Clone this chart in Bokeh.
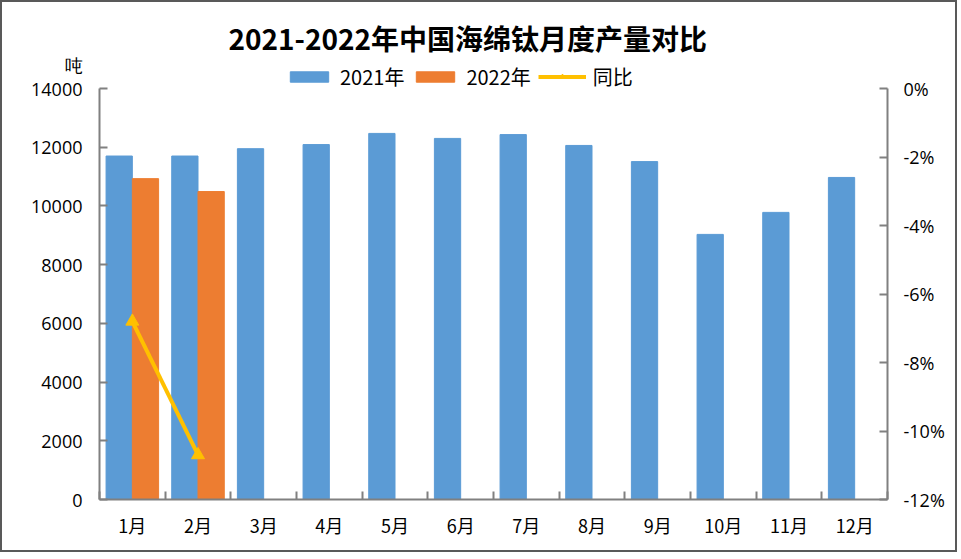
from bokeh.plotting import figure
from bokeh.models import (Range1d, LinearAxis, FixedTicker, PrintfTickFormatter,
                          Legend, LegendItem, ColumnDataSource)
from bokeh.embed import file_html
from bokeh.resources import INLINE

months = ["1月", "2月", "3月", "4月", "5月", "6月", "7月", "8月", "9月", "10月", "11月", "12月"]
prod_2021 = [11700, 11700, 11950, 12090, 12470, 12300, 12430, 12060, 11510, 9030, 9780, 10970]
prod_2022 = [10930, 10490]
yoy_pct = [-6.8, -10.7]
left_ticks = [0, 2000, 4000, 6000, 8000, 10000, 12000, 14000]
right_ticks = [-12, -10, -8, -6, -4, -2, 0]
unit_label = "吨"

FONT = "Open Sans"
CJK = "Noto Sans CJK SC"
BLUE = "#5B9BD5"
ORANGE = "#ED7D31"
YELLOW = "#FFC000"
AXIS = "#808080"
TEXT = "#000000"

# frame extends a little above the top tick so the legend fits inside it
AXIS_PX = 411.0
EXTRA_PX = 28.0
y_top = left_ticks[-1] + EXTRA_PX * (left_ticks[-1] - left_ticks[0]) / AXIS_PX
r_top = right_ticks[-1] + EXTRA_PX * (right_ticks[-1] - right_ticks[0]) / AXIS_PX

xs = list(range(1, len(months) + 1))
src21 = ColumnDataSource(dict(x=[v - 0.2 for v in xs], top=prod_2021))
src22 = ColumnDataSource(dict(x=[v + 0.2 for v in xs[:len(prod_2022)]], top=prod_2022))
srcl = ColumnDataSource(dict(x=xs[:len(yoy_pct)], y=yoy_pct))

p = figure(width=957, height=552, output_backend="svg", toolbar_location=None,
           x_range=Range1d(0.5, 12.5), y_range=Range1d(left_ticks[0], y_top),
           min_border_left=97, min_border_right=72, min_border_top=58, min_border_bottom=55)
p.styles = {"border": "2px solid #595959"}
p.extra_y_ranges = {"pct": Range1d(right_ticks[0], r_top)}
p.outline_line_color = None
p.xgrid.visible = False
p.ygrid.visible = False

p.title.text = "2021-2022年中国海绵钛月度产量对比"
p.title.align = "left"
p.title.offset = 129
p.title.text_font = CJK
p.title.text_font_size = "28px"
p.title.text_font_style = "bold"
p.title.text_color = TEXT
p.title.standoff = 6

r21 = p.vbar(x="x", top="top", width=0.4, source=src21, color=BLUE)
r22 = p.vbar(x="x", top="top", width=0.4, source=src22, color=ORANGE)
rl = p.line(x="x", y="y", source=srcl, y_range_name="pct", line_color=YELLOW, line_width=4)
rm = p.scatter(x="x", y="y", source=srcl, y_range_name="pct", marker="triangle",
               size=13, color=YELLOW)

# x axis
xa = p.xaxis[0]
xa.ticker = FixedTicker(ticks=xs, minor_ticks=[v + 0.5 for v in range(0, 13)])
xa.major_label_overrides = {v: m for v, m in zip(xs, months)}
xa.major_tick_line_color = None
xa.minor_tick_in = 8
xa.minor_tick_out = 0
xa.minor_tick_line_color = AXIS
xa.minor_tick_line_width = 2
xa.axis_line_color = AXIS
xa.axis_line_width = 2
xa.major_label_text_font = CJK
xa.major_label_text_font_size = "18px"
xa.major_label_text_color = TEXT
xa.major_label_standoff = 6

# left axis
ya = p.yaxis[0]
ya.ticker = FixedTicker(ticks=left_ticks)
ya.bounds = (left_ticks[0], left_ticks[-1])
ya.major_label_overrides = {left_ticks[-1]: unit_label + "\n" + str(left_ticks[-1]) + "\n "}
ya.major_tick_in = 8
ya.major_tick_out = 0
ya.minor_tick_line_color = None
ya.major_tick_line_color = AXIS
ya.major_tick_line_width = 2
ya.axis_line_color = AXIS
ya.axis_line_width = 2
ya.major_label_text_font = FONT
ya.major_label_text_font_size = "18px"
ya.major_label_text_color = TEXT
ya.major_label_text_line_height = 1.0
ya.major_label_standoff = 17

# right axis
ra = LinearAxis(y_range_name="pct", ticker=FixedTicker(ticks=right_ticks),
                formatter=PrintfTickFormatter(format="%d%%"),
                bounds=(right_ticks[0], right_ticks[-1]))
ra.major_tick_in = 8
ra.major_tick_out = 0
ra.minor_tick_line_color = None
ra.major_tick_line_color = AXIS
ra.major_tick_line_width = 2
ra.axis_line_color = AXIS
ra.axis_line_width = 2
ra.major_label_text_font = FONT
ra.major_label_text_font_size = "18px"
ra.major_label_text_color = TEXT
ra.major_label_standoff = 16
p.add_layout(ra, "right")

legend = Legend(items=[LegendItem(label="2021年", renderers=[r21]),
                       LegendItem(label="2022年", renderers=[r22]),
                       LegendItem(label="同比", renderers=[rl, rm])],
                orientation="horizontal", location=(186, 408),
                glyph_width=48, glyph_height=13, label_standoff=7, spacing=7,
                label_height=20, padding=0, margin=0, border_line_color=None,
                background_fill_alpha=0, label_text_color=TEXT,
                label_text_font=CJK, label_text_font_size="20px")
p.add_layout(legend, "center")

open("out.html", "w").write(file_html(p, INLINE))
